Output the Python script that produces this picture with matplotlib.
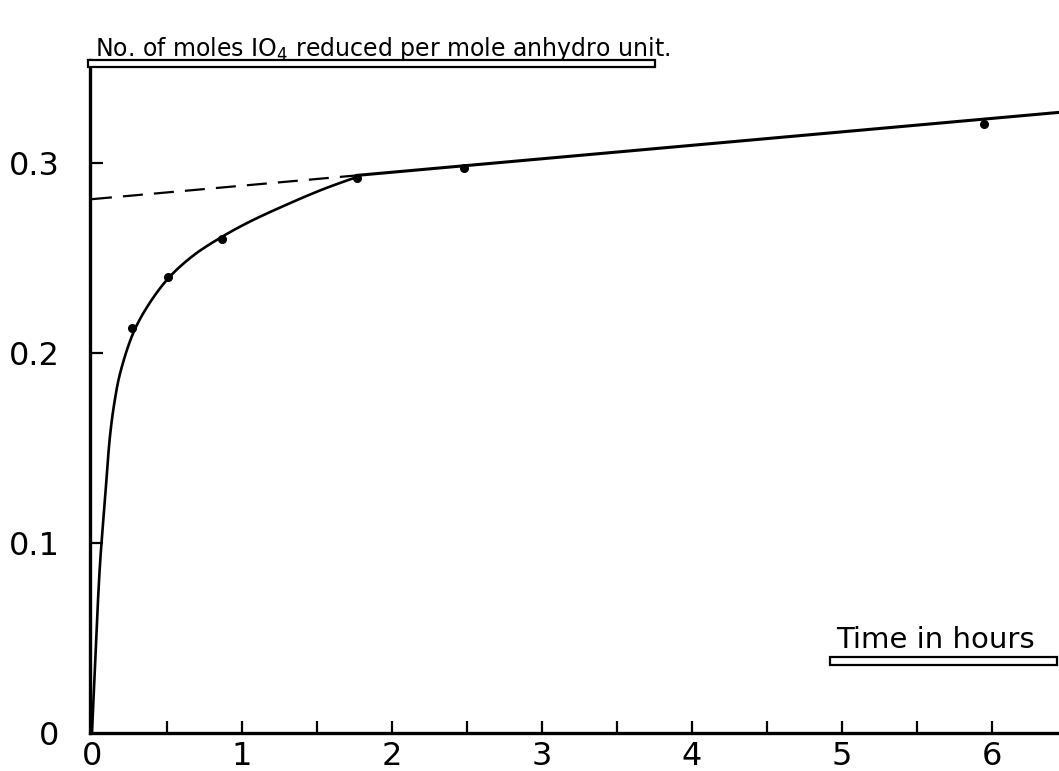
import numpy as np
import matplotlib
matplotlib.use("Agg")
import matplotlib.pyplot as plt
from matplotlib.patches import Rectangle

# Measured periodate uptake (moles IO4 reduced per mole anhydro unit)
time_h = [0.27, 0.51, 0.87, 1.77, 2.48, 5.95]
moles_io4 = [0.213, 0.240, 0.260, 0.292, 0.297, 0.3205]

# Hand-fitted rising curve through the early readings
curve_t = [0.0, 0.02, 0.053, 0.087, 0.12, 0.15, 0.187, 0.273, 0.367,
           0.507, 0.673, 0.867, 1.053, 1.30, 1.54, 1.767]
curve_y = [0.0, 0.035, 0.088, 0.123, 0.156, 0.174, 0.189, 0.210, 0.224,
           0.239, 0.251, 0.261, 0.269, 0.278, 0.286, 0.2925]

# Straight-line portion and its extrapolation back to zero time
line_intercept = 0.2808
line_slope = 0.00708
line_join = 1.767
x_max = 6.447

x_tick_labels = ["0", "1", "2", "3", "4", "5", "6"]
y_tick_values = [0.0, 0.1, 0.2, 0.3]
y_tick_labels = ["0", "0.1", "0.2", "0.3"]

title_text = "No. of moles IO$_4$ reduced per mole anhydro unit."
xlabel_text = "Time in hours"


def centripetal_spline(xs, ys, sx=150.0, sy=1900.0, n=24):
    """Centripetal Catmull-Rom path through the points (scaled to screen units)."""
    p = np.column_stack([np.asarray(xs) * sx, np.asarray(ys) * sy])
    p = np.vstack([2 * p[0] - p[1], p, 2 * p[-1] - p[-2]])
    pieces = []
    for i in range(1, len(p) - 2):
        P0, P1, P2, P3 = p[i - 1], p[i], p[i + 1], p[i + 2]
        t0 = 0.0
        t1 = t0 + np.linalg.norm(P1 - P0) ** 0.5
        t2 = t1 + np.linalg.norm(P2 - P1) ** 0.5
        t3 = t2 + np.linalg.norm(P3 - P2) ** 0.5
        t = np.linspace(t1, t2, n, endpoint=False)[:, None]
        A1 = (t1 - t) / (t1 - t0) * P0 + (t - t0) / (t1 - t0) * P1
        A2 = (t2 - t) / (t2 - t1) * P1 + (t - t1) / (t2 - t1) * P2
        A3 = (t3 - t) / (t3 - t2) * P2 + (t - t2) / (t3 - t2) * P3
        B1 = (t2 - t) / (t2 - t0) * A1 + (t - t0) / (t2 - t0) * A2
        B2 = (t3 - t) / (t3 - t1) * A2 + (t - t1) / (t3 - t1) * A3
        C = (t2 - t) / (t2 - t1) * B1 + (t - t1) / (t2 - t1) * B2
        pieces.append(C)
    pieces.append(p[-2][None, :])
    out = np.vstack(pieces)
    return out[:, 0] / sx, out[:, 1] / sy


W, H = 1059, 771
fig = plt.figure(figsize=(W / 100, H / 100), dpi=100)
fig.patch.set_facecolor("white")

ax = fig.add_axes([90 / W, (H - 733) / H, (W - 90) / W, (733 - 60) / H])
ax.set_xlim(-0.013, x_max)
ax.set_ylim(0, 0.354)

# smooth rising curve
cx, cy = centripetal_spline(curve_t, curve_y)
ax.plot(cx, cy, color="black", lw=1.9, solid_capstyle="round")

# straight line from the join onwards
lx = np.array([line_join, x_max])
ax.plot(lx, line_intercept + line_slope * lx, color="black", lw=2.2)

# dashed extrapolation back to t = 0
dx = np.array([0.0, line_join])
ax.plot(dx, line_intercept + line_slope * dx, color="black", lw=1.6,
        linestyle=(0, (9, 5)))

# measured points
ax.plot(time_h, moles_io4, "o", color="black", markersize=5.5)

# axes styling
for side in ("top", "right"):
    ax.spines[side].set_visible(False)
ax.spines["left"].set_linewidth(2.4)
ax.spines["bottom"].set_linewidth(2.4)

ax.set_xticks(np.arange(0, 7, 1.0))
ax.set_xticklabels(x_tick_labels)
ax.set_xticks(np.arange(0.5, 6.5, 1.0), minor=True)
ax.set_yticks(y_tick_values)
ax.set_yticklabels(y_tick_labels)

ax.tick_params(axis="x", which="both", direction="in", length=9, width=1.6,
               labelsize=23, pad=6)
ax.tick_params(axis="y", which="both", direction="in", length=9, width=1.6,
               labelsize=23, pad=22)
ax.yaxis.get_major_ticks()[0].tick1line.set_visible(False)

# title text with boxed double underline
fig.text(95 / W, (H - 56) / H, title_text, fontsize=17, ha="left",
         va="baseline", family="DejaVu Sans")
fig.add_artist(Rectangle((88 / W, (H - 67) / H), (655 - 88) / W, 7 / H,
                         transform=fig.transFigure, facecolor="white",
                         edgecolor="black", lw=1.6))

# axis label with boxed double underline
fig.text(836 / W, (H - 648) / H, xlabel_text, fontsize=21, ha="left",
         va="baseline", family="DejaVu Sans")
fig.add_artist(Rectangle((830 / W, (H - 665) / H), (1057 - 830) / W, 8 / H,
                         transform=fig.transFigure, facecolor="white",
                         edgecolor="black", lw=1.6))

fig.savefig("out.png", dpi=100, facecolor="white")
